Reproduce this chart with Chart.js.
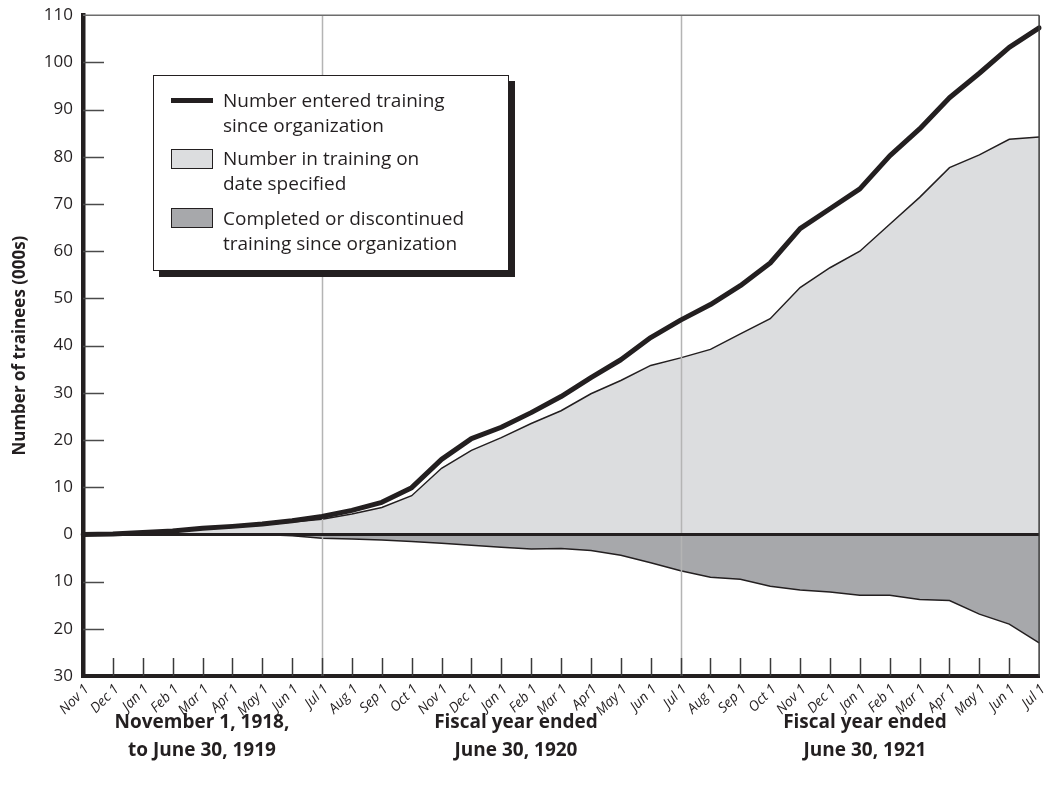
<!DOCTYPE html>
<html><head><meta charset="utf-8">
<script src="https://cdn.jsdelivr.net/npm/chart.js@4.4.1/dist/chart.umd.min.js"></script>
<style>
html,body{margin:0;padding:0;background:#fff;}
#wrap{position:relative;width:1056px;height:785px;font-family:"Open Sans","Noto Sans",sans-serif;color:#231f20;overflow:hidden;}
#c{position:absolute;left:0;top:-5px;}
.legend{position:absolute;left:153px;top:75px;width:356px;height:196px;border:1px solid #231f20;background:#fff;box-shadow:6px 6px 0 #231f20;box-sizing:border-box;}
.legend .t{position:absolute;left:69px;font-size:19px;line-height:25px;white-space:nowrap;}
.legend .ln{position:absolute;left:17px;width:42px;height:5px;background:#231f20;}
.legend .sw{position:absolute;left:17px;width:42px;height:20px;border:1.5px solid #231f20;box-sizing:border-box;}
.grp{position:absolute;width:300px;text-align:center;font-weight:bold;font-size:19px;line-height:28px;}
</style></head>
<body>
<div id="wrap">
<canvas id="c" width="1056" height="790"></canvas>
<div class="legend">
  <div class="ln" style="top:22px"></div>
  <div class="t" style="top:12px">Number entered training<br>since organization</div>
  <div class="sw" style="top:73px;background:#dcdddf"></div>
  <div class="t" style="top:70px">Number in training on<br>date specified</div>
  <div class="sw" style="top:132px;background:#a7a8ab"></div>
  <div class="t" style="top:130px">Completed or discontinued<br>training since organization</div>
</div>
<div class="grp" style="left:52px;top:707px">November 1, 1918,<br>to June 30, 1919</div>
<div class="grp" style="left:366px;top:707px">Fiscal year ended<br>June 30, 1920</div>
<div class="grp" style="left:715px;top:707px">Fiscal year ended<br>June 30, 1921</div>
</div>
<script>
const labels = ['Nov 1','Dec 1','Jan 1','Feb 1','Mar 1','Apr 1','May 1','Jun 1','Jul 1',
  'Aug 1','Sep 1','Oct 1','Nov 1','Dec 1','Jan 1','Feb 1','Mar 1','Apr1','May 1','Jun 1','Jul 1',
  'Aug 1','Sep 1','Oct 1','Nov 1','Dec 1','Jan 1','Feb 1','Mar 1','Apr 1','May 1','Jun 1','Jul 1'];
const entered = [0,0.1,0.4,0.7,1.3,1.7,2.2,2.9,3.8,5.1,6.8,9.9,15.9,20.3,22.7,25.8,29.2,33.2,37.0,41.7,45.4,
  48.7,52.7,57.5,64.8,69.0,73.2,80.2,85.9,92.5,97.7,103.2,107.3];
const inTraining = [0,0,0.3,0.6,1.1,1.5,2.0,2.6,3.2,4.3,5.7,8.2,14.0,17.8,20.5,23.5,26.2,29.8,32.6,35.8,37.4,
  39.2,42.5,45.7,52.3,56.5,60.0,65.7,71.4,77.7,80.4,83.7,84.2];
const completed = [0,0,0,0,0,0,0,0.3,0.8,1.0,1.2,1.5,1.9,2.3,2.7,3.1,3.0,3.4,4.4,6.0,7.7,
  9.1,9.5,11.0,11.8,12.2,12.9,12.9,13.8,14.0,16.9,19.0,23.0];
const yMin = -30, yMax = 110, yStep = 10;
const fiscalDividers = [8, 20];

const INK = '#231f20';
const FONT = '"Open Sans","Noto Sans",sans-serif';

const decor = {
  id:'decor',
  beforeDatasetDraw(chart, args){
    if (args.index !== 0) return;
    const {ctx, chartArea:a, scales:{x,y}} = chart;
    ctx.save();
    ctx.strokeStyle = '#b4b4b4'; ctx.lineWidth = 1.5;
    fiscalDividers.forEach(i=>{
      const px = Math.round(x.getPixelForValue(i))+0.5;
      ctx.beginPath(); ctx.moveTo(px,a.top); ctx.lineTo(px,a.bottom); ctx.stroke();
    });
    const y0 = y.getPixelForValue(0);
    ctx.strokeStyle = INK; ctx.lineWidth = 3;
    ctx.beginPath(); ctx.moveTo(a.left,y0); ctx.lineTo(a.right,y0); ctx.stroke();
    ctx.restore();
  },
  afterDraw(chart){
    const {ctx, chartArea:a, scales:{x,y}} = chart;
    ctx.save();
    ctx.lineWidth = 1.5;
    ctx.strokeStyle = '#6d6d6d';
    ctx.beginPath(); ctx.moveTo(a.left,a.top); ctx.lineTo(a.right,a.top); ctx.stroke();
    ctx.strokeStyle = '#3a3a3a';
    ctx.beginPath(); ctx.moveTo(a.right,a.top); ctx.lineTo(a.right,a.bottom); ctx.stroke();
    ctx.strokeStyle = '#4a4a4a'; ctx.lineWidth = 1.5;
    for (let v = yMin + yStep; v < yMax; v += yStep){
      if (v === 0) continue;
      const py = Math.round(y.getPixelForValue(v))+0.5;
      ctx.beginPath(); ctx.moveTo(a.left,py); ctx.lineTo(a.left+21,py); ctx.stroke();
    }
    ctx.strokeStyle = '#3a3a3a';
    for (let i = 1; i < labels.length-1; i++){
      const px = Math.round(x.getPixelForValue(i))+0.5;
      ctx.beginPath(); ctx.moveTo(px,a.bottom); ctx.lineTo(px,a.bottom-18); ctx.stroke();
    }
    ctx.restore();
  }
};

new Chart(document.getElementById('c'), {
  type:'line',
  data:{
    labels,
    datasets:[
      {label:'Number entered training since organization', data:entered, borderColor:INK, borderWidth:5, fill:false, borderJoinStyle:'round', borderCapStyle:'round'},
      {label:'Number in training on date specified', data:inTraining, borderColor:INK, borderWidth:1.5, backgroundColor:'#dcdddf', fill:'origin'},
      {label:'Completed or discontinued training since organization', data:completed.map(v=>-v), borderColor:INK, borderWidth:1.5, backgroundColor:'#a7a8ab', fill:'origin'}
    ]
  },
  options:{
    responsive:false, animation:false,
    layout:{padding:{top:9,right:9,left:0,bottom:0}},
    plugins:{legend:{display:false}, tooltip:{enabled:false}},
    elements:{point:{radius:0}, line:{tension:0}},
    scales:{
      x:{
        type:'category', offset:false,
        grid:{display:false, drawTicks:false},
        border:{display:true, color:INK, width:4},
        ticks:{autoSkip:false, maxRotation:45, minRotation:45, padding:5, labelOffset:4, color:INK,
          font:{family:FONT, size:14, style:'italic'}},
        afterFit(s){ s.height = 109; }
      },
      y:{
        min:yMin, max:yMax,
        grid:{display:false, drawTicks:false},
        border:{display:true, color:INK, width:4.5},
        ticks:{stepSize:yStep, padding:10, color:INK, font:{family:FONT, size:17},
          callback:v=>String(Math.abs(v))},
        title:{display:true, text:'Number of trainees (000s)', color:INK,
          font:{family:FONT, size:17, weight:'bold'}, padding:{top:10,bottom:0}},
        afterFit(s){ s.width = 83; }
      }
    }
  },
  plugins:[decor]
});
</script>
</body></html>
